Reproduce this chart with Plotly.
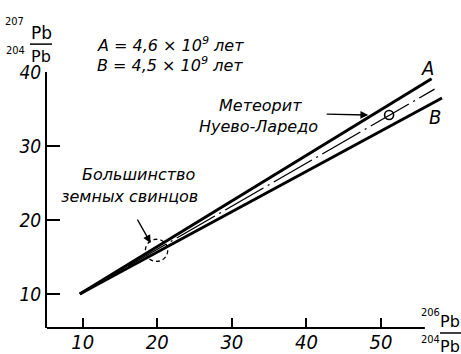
import plotly.graph_objects as go

# ---- data ----
x_ticks = [10, 20, 30, 40, 50]
y_ticks = [10, 20, 30, 40]
line_A_x = [9.6, 56.8]
line_A_y = [10.0, 39.1]
line_B_x = [9.6, 58.2]
line_B_y = [10.0, 36.5]
line_mid_x = [9.6, 57.2]
line_mid_y = [10.0, 37.7]
meteorite_x = [51.1]
meteorite_y = [34.2]
earth_lead_x = 19.9
earth_lead_y = 15.9

# the captured page comes out slightly squeezed vertically; lay out on a taller canvas
SY = 366 / 354
W, H = 461, 366
L, R = 47, 445
T, B = 70 * SY, 327 * SY
XR = [5.2, 58.6]
YR = [5.4, 40.02]


def px(x):
    return (x - L) / (R - L)


def py(y):
    return (B - y * SY) / (B - T)


NARROW = "Liberation Sans Narrow, DejaVu Sans Condensed, Arial Narrow, sans-serif"
ITAL = dict(family=NARROW, color="black", style="italic")
TXT = dict(family="DejaVu Sans, sans-serif", color="black", style="italic")
PB = dict(family="DejaVu Sans, sans-serif", color="black")
SUPF = dict(family=NARROW, color="black")

fig = go.Figure()
fig.add_trace(go.Scatter(x=line_A_x, y=line_A_y, mode="lines",
                         line=dict(color="black", width=3), showlegend=False))
fig.add_trace(go.Scatter(x=line_B_x, y=line_B_y, mode="lines",
                         line=dict(color="black", width=3), showlegend=False))
fig.add_trace(go.Scatter(x=line_mid_x, y=line_mid_y, mode="lines",
                         line=dict(color="black", width=1.4, dash="44px,5px,2px,5px"),
                         showlegend=False))
fig.add_trace(go.Scatter(x=meteorite_x, y=meteorite_y, mode="markers",
                         marker=dict(symbol="circle-open", size=9, color="black",
                                     line=dict(width=1.6, color="black")),
                         showlegend=False))

shapes = [
    dict(type="line", xref="x", yref="paper", x0=XR[0], x1=55.9, y0=0, y1=0,
         line=dict(color="black", width=2)),
    dict(type="circle", xref="x", yref="y",
         x0=earth_lead_x - 1.5, x1=earth_lead_x + 1.5,
         y0=earth_lead_y - 1.5, y1=earth_lead_y + 1.5,
         line=dict(color="black", width=1.3, dash="4px,3px")),
    dict(type="line", xref="paper", yref="paper", x0=px(30), x1=px(52), y0=py(42), y1=py(42),
         line=dict(color="black", width=1.5)),
    dict(type="line", xref="paper", yref="paper", x0=px(440), x1=px(461), y0=py(332), y1=py(332),
         line=dict(color="black", width=1.5)),
]

ann = []


def text(s, x, y, size, font=TXT, xanchor="center", yanchor="middle"):
    f = dict(font)
    f["size"] = size
    ann.append(dict(text=s, xref="paper", yref="paper", x=px(x), y=py(y),
                    xanchor=xanchor, yanchor=yanchor, showarrow=False, font=f,
                    borderpad=0, borderwidth=0))


# isotope ratio labels: small mass number + "Pb"
text("207", 24, 19, 11, SUPF, xanchor="right")
text("Pb", 31, 31, 17, PB, xanchor="left")
text("204", 25, 48, 11, SUPF, xanchor="right")
text("Pb", 31, 54, 16, PB, xanchor="left")
text("206", 440, 311, 11, SUPF, xanchor="right")
text("Pb", 440, 320, 16, PB, xanchor="left")
text("204", 440, 339, 11, SUPF, xanchor="right")
text("Pb", 440, 346, 16, PB, xanchor="left")

text("A = 4,6 × 10<sup>9</sup> лет", 97, 42, 16, xanchor="left")
text("B = 4,5 × 10<sup>9</sup> лет", 97, 62, 16, xanchor="left")
text("A", 427, 66, 20, ITAL)
text("B", 435, 115, 20, ITAL)
text("Метеорит", 302, 104, 16, xanchor="right")
text("Нуево-Ларедо", 318, 125, 16, xanchor="right")
text("Большинство", 138, 173, 16)
text("земных свинцов", 129, 195, 16)

ann.append(dict(x=19.1, y=16.9, xref="x", yref="y", ax=-14, ay=-24 * SY, text="",
                showarrow=True, arrowhead=2, arrowsize=1.2, arrowwidth=1.3, arrowcolor="black"))
ann.append(dict(x=48.3, y=34.2, xref="x", yref="y", ax=-43, ay=-1, text="",
                showarrow=True, arrowhead=2, arrowsize=1.2, arrowwidth=1.3, arrowcolor="black"))

fig.update_layout(
    width=W, height=H,
    margin=dict(l=L, r=W - R, t=T, b=H - B, pad=0),
    plot_bgcolor="white", paper_bgcolor="white",
    shapes=shapes, annotations=ann,
    xaxis=dict(range=XR, tickvals=x_ticks, ticks="inside", ticklen=10, tickwidth=1.5,
               tickcolor="black", showgrid=False, zeroline=False, showline=False,
               tickfont=dict(ITAL, size=20)),
    yaxis=dict(range=YR, tickvals=y_ticks, ticks="inside", ticklen=13, tickwidth=1.5,
               tickcolor="black", showgrid=False, zeroline=False, showline=True,
               linecolor="black", linewidth=2,
               tickfont=dict(ITAL, size=19)),
)

fig.write_html("out.html", config={"displayModeBar": False},
               post_script="document.body.style.margin='0';document.body.style.overflow='hidden';")
